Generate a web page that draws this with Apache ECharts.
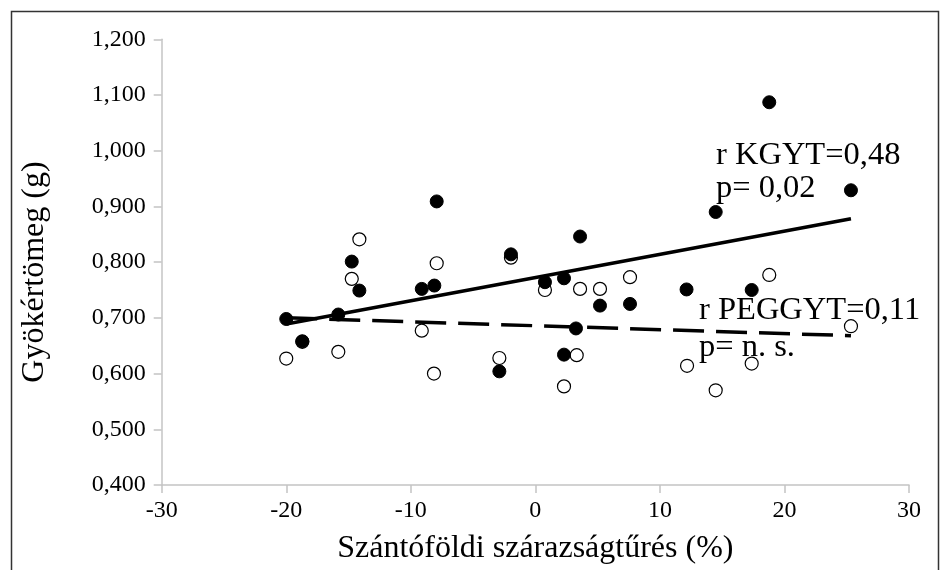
<!DOCTYPE html>
<html>
<head>
<meta charset="utf-8">
<script src="https://cdn.jsdelivr.net/npm/echarts@6/dist/echarts.min.js"></script>
<style>
  html, body { margin: 0; padding: 0; background: #fff; }
  #chart { width: 945px; height: 570px; }
</style>
</head>
<body>
<div id="chart"></div>
<script>
// Drought tolerance in the field (%) for each genotype
const kgytX = [-20.0, -18.71, -15.82, -14.74, -14.13, -9.12, -8.11, -7.92, -2.89, -1.96, 0.77, 2.3, 2.3, 3.26, 3.59, 5.19, 7.6, 12.14, 14.48, 17.37, 18.78, 25.34];
// Root mass (g), KGYT treatment (filled markers)
const kgytY = [0.698, 0.658, 0.706, 0.801, 0.749, 0.752, 0.758, 0.909, 0.604, 0.814, 0.764, 0.771, 0.634, 0.681, 0.846, 0.722, 0.725, 0.751, 0.890, 0.750, 1.087, 0.929];

const peggytX = [-20.0, -18.71, -15.82, -14.74, -14.13, -9.12, -8.14, -7.92, -2.89, -1.96, 0.77, 2.3, 3.32, 3.59, 5.19, 7.6, 12.18, 14.48, 17.37, 18.78, 25.34];
// Root mass (g), PEGGYT treatment (open markers)
const peggytY = [0.627, 0.657, 0.639, 0.770, 0.841, 0.677, 0.600, 0.798, 0.628, 0.808, 0.750, 0.577, 0.633, 0.752, 0.752, 0.773, 0.614, 0.570, 0.618, 0.777, 0.685];

// Linear trend line end points
const kgytTrendX = [-20.0, 25.34];
const kgytTrendY = [0.689, 0.878];
const peggytTrendX = [-20.0, 25.34];
const peggytTrendY = [0.700, 0.668];

const xTicks = { min: -30, max: 30, interval: 10 };
const yTicks = { min: 0.4, max: 1.2, interval: 0.1 };

const xTitle = 'Szántóföldi szárazságtűrés (%)';
const yTitle = 'Gyökértömeg (g)';
const notes = [
  { text: 'r KGYT=0,48', x: 716, y: 155 },
  { text: 'p= 0,02', x: 716, y: 188 },
  { text: 'r PEGGYT=0,11', x: 699, y: 310 },
  { text: 'p= n. s.', x: 699, y: 347 }
];

const zip = (xs, ys) => xs.map((x, i) => [x, ys[i]]);
const FONT = '"Liberation Serif", "Times New Roman", serif';
const AXIS_GRAY = '#c4c4c4';

const chart = echarts.init(document.getElementById('chart'), null, { renderer: 'canvas' });

chart.setOption({
  animation: false,
  backgroundColor: '#ffffff',
  grid: { left: 161.7, right: 36, top: 39.3, bottom: 83.3, containLabel: false },
  xAxis: {
    type: 'value',
    min: xTicks.min, max: xTicks.max, interval: xTicks.interval,
    name: xTitle,
    nameLocation: 'middle',
    nameGap: 48,
    nameTextStyle: { fontFamily: FONT, fontSize: 32, color: '#000' },
    axisLine: { show: true, onZero: false, lineStyle: { color: AXIS_GRAY, width: 1.5 } },
    axisTick: { show: true, inside: false, length: 8, lineStyle: { color: AXIS_GRAY, width: 1.5 } },
    axisLabel: { fontFamily: FONT, fontSize: 24, color: '#000', margin: 14 },
    splitLine: { show: false }
  },
  yAxis: {
    type: 'value',
    min: yTicks.min, max: yTicks.max, interval: yTicks.interval,
    axisLine: { show: true, onZero: false, lineStyle: { color: AXIS_GRAY, width: 1.5 } },
    axisTick: { show: true, inside: false, length: 8, lineStyle: { color: AXIS_GRAY, width: 1.5 } },
    axisLabel: {
      fontFamily: FONT, fontSize: 24, color: '#000', margin: 16,
      formatter: v => v.toFixed(3).replace('.', ',')
    },
    splitLine: { show: false }
  },
  series: [
    {
      name: 'PEGGYT',
      type: 'scatter',
      data: zip(peggytX, peggytY),
      symbol: 'circle',
      symbolSize: 13,
      itemStyle: { color: '#ffffff', borderColor: '#000000', borderWidth: 1.2, opacity: 1 },
      z: 2
    },
    {
      name: 'KGYT',
      type: 'scatter',
      data: zip(kgytX, kgytY),
      symbol: 'circle',
      symbolSize: 13,
      itemStyle: { color: '#000000', borderColor: '#000000', borderWidth: 1, opacity: 1 },
      z: 3
    },
    {
      name: 'KGYT trend',
      type: 'line',
      data: zip(kgytTrendX, kgytTrendY),
      showSymbol: false,
      symbol: 'none',
      lineStyle: { color: '#000', width: 3.5, type: 'solid' },
      z: 4
    },
    {
      name: 'PEGGYT trend',
      type: 'line',
      data: zip(peggytTrendX, peggytTrendY),
      showSymbol: false,
      symbol: 'none',
      lineStyle: { color: '#000', width: 3.5, type: [31, 12] },
      z: 4
    }
  ],
  graphic: [
    {
      type: 'rect',
      left: 9, top: 9, z: 0,
      shape: { width: 927, height: 620 },
      style: { fill: 'none', stroke: '#333', lineWidth: 1.5 },
      silent: true
    },
    {
      // vertical axis title
      type: 'text',
      x: 35, y: 272, rotation: Math.PI / 2, z: 10,
      style: {
        text: yTitle,
        fontFamily: FONT, fontSize: 32, fill: '#000',
        textAlign: 'center', textVerticalAlign: 'middle'
      }
    }
  ].concat(notes.map(n => ({
    type: 'text',
    x: n.x, y: n.y, z: 10,
    style: {
      text: n.text,
      fontFamily: FONT, fontSize: 32.5, fill: '#000',
      textAlign: 'left', textVerticalAlign: 'middle'
    }
  })))
});
</script>
</body>
</html>
